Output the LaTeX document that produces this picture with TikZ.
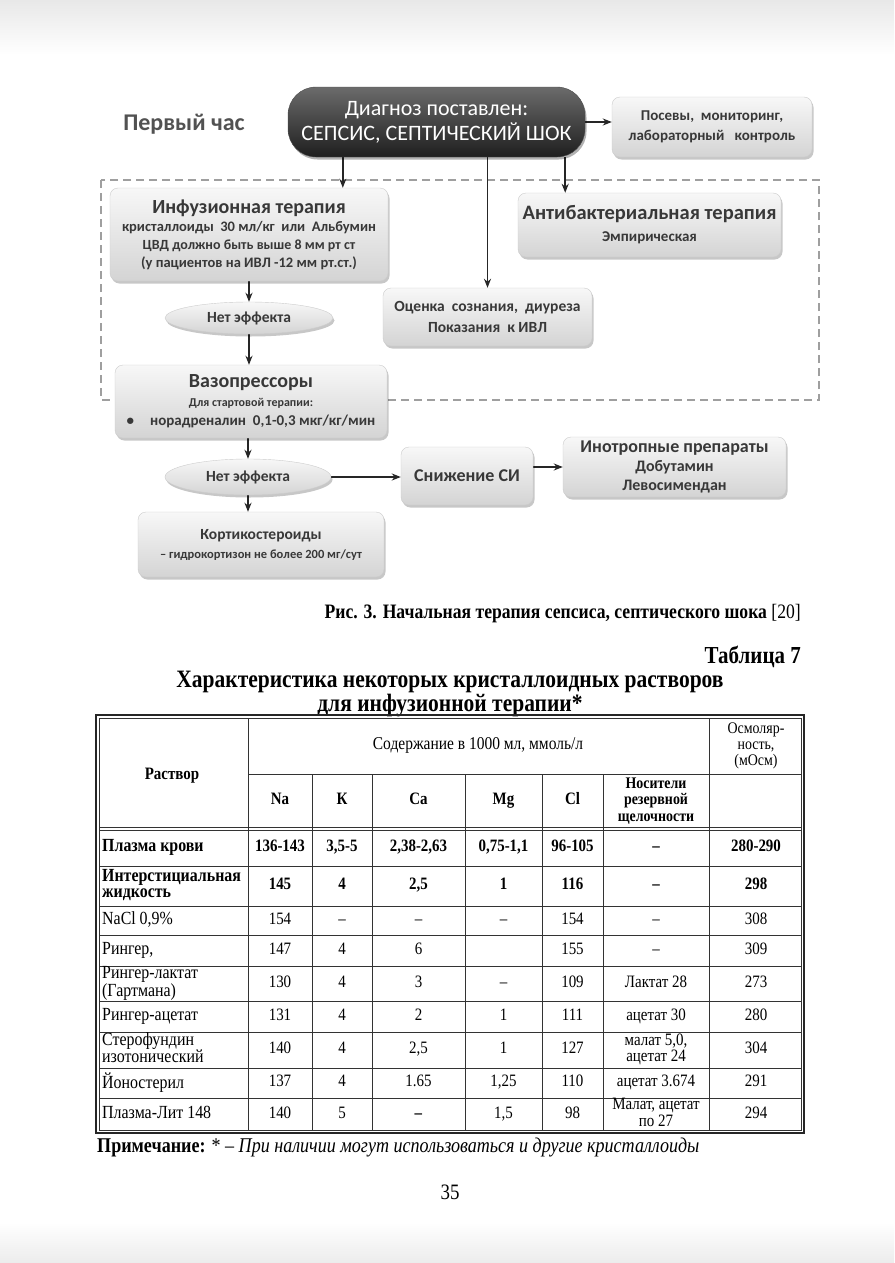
\documentclass[tikz,border=0pt]{standalone}
\usepackage{fontspec}
\setmainfont{Liberation Serif}[FakeStretch=0.86]
\newfontfamily\flow{Carlito}
\usetikzlibrary{shapes.geometric,shadows,arrows.meta,calc,backgrounds}
\newcommand\fs[2]{\fontsize{#1}{#2}\selectfont}
\newcommand\rowfont{\mdseries}
\newcommand\trow[9]{%
  \node[namecell] (n#1) at (102,#1) {#2};
  \node[cell] (a#1) at (280,#1) {#3};
  \node[cell] (b#1) at (342,#1) {#4};
  \node[cell] (c#1) at (418.5,#1) {#5};
  \node[cell] (d#1) at (503.5,#1) {#6};
  \node[cell] (e#1) at (572.5,#1) {#7};
  \node[cell] (f#1) at (656,#1) {#8};
  \node[cell] (g#1) at (756,#1) {#9};
}
\begin{document}
\begin{tikzpicture}[x=1pt,y=-1pt,
  box/.style={rectangle, rounded corners=8pt, top color=gray!6, bottom color=gray!34,
     draw=gray!40, line width=0.4pt, align=center, inner sep=0pt, text=black!78,
     drop shadow={shadow xshift=1.5pt, shadow yshift=-2.5pt, fill=black, opacity=0.22}},
  lens/.style={ellipse, top color=gray!6, bottom color=gray!34, draw=gray!40,
     line width=0.4pt, inner sep=0pt, font=\flow\bfseries\fs{15.5}{18}, text=black!78,
     drop shadow={shadow xshift=1.5pt, shadow yshift=-2.5pt, fill=black, opacity=0.22}},
  darkbox/.style={rectangle, rounded corners=28pt, top color=black!58, bottom color=black!88,
     draw=black!70, align=center, inner sep=0pt, text=white,
     drop shadow={shadow xshift=1.5pt, shadow yshift=-2.5pt, fill=black, opacity=0.3}},
  arr/.style={-{Stealth[length=9pt,width=7pt]}, line width=1.5pt, black!85},
  frame/.style={draw=gray!75, line width=1.4pt, dash pattern=on 8pt off 5pt},
  cell/.style={inner sep=0pt, align=center, font=\rowfont\fs{17.4}{16.5}, execute at begin node=\strut},
  namecell/.style={inner sep=0pt, anchor=west, align=left, font=\rowfont\fs{18.5}{16.5}, execute at begin node=\strut},
  hcell/.style={inner sep=0pt, align=center},
  scell/.style={inner sep=0pt, align=center, font=\bfseries\fs{17.4}{17}, execute at begin node=\strut},
  thin/.style={line width=0.6pt, black!80}
]
\begin{scope}[on background layer]
  \fill[white] (0,0) rectangle (894,1263);
  \shade[top color=gray!18, bottom color=white] (0,0) rectangle (894,55);
  \shade[top color=white, bottom color=gray!15] (0,1222) rectangle (894,1263);
\end{scope}
\useasboundingbox (0,0) rectangle (894,1263);

% ---------- flowchart ----------
\node[font=\flow\bfseries\fs{24}{28}, text=black!68] (hour) at (184,124) {Первый час};
\node[darkbox, minimum width=297, minimum height=70, font=\flow\fs{22}{25}] (main) at (436.5,122)
  {Диагноз поставлен:\\ СЕПСИС, СЕПТИЧЕСКИЙ ШОК};
\node[box, minimum width=200, minimum height=60, font=\flow\bfseries\fs{15}{20}] (posev) at (712,127)
  {Посевы,\ \ мониторинг,\\ лабораторный\ \ \ контроль};
\node[box, minimum width=278, minimum height=93, font=\flow\bfseries\fs{14.5}{19}] (inf) at (249,234.5)
  {{\fs{20}{19}Инфузионная терапия}\\[-1pt]
   кристаллоиды\ \ 30 мл/кг\ \ или\ \ Альбумин\\[-1pt]
   {\fs{14}{19}ЦВД должно быть выше 8 мм рт ст}\\[-1pt]
   (у пациентов на ИВЛ -12 мм рт.ст.)};
\node[box, minimum width=263, minimum height=64, font=\flow\bfseries\fs{15}{22}] (abx) at (649.5,225)
  {{\fs{20.5}{22}Антибактериальная терапия}\\ Эмпирическая};
\node[box, minimum width=209, minimum height=58, font=\flow\bfseries\fs{15.5}{21}] (ocen) at (487.5,317)
  {Оценка\ \ сознания,\ \ диуреза\\ Показания\ \ к ИВЛ};
\node[lens, minimum width=168, minimum height=32] (ell1) at (249,318) {Нет эффекта};
\node[box, minimum width=272, minimum height=73, font=\flow\bfseries\fs{12}{20}] (vaso) at (251,401.5)
  {{\fs{20}{20}Вазопрессоры}\\[-1pt]
   Для стартовой терапии:\\[-1pt]
   {\fs{15}{20}\textbullet\hspace{16pt}норадреналин\ \ 0,1-0,3 мкг/кг/мин}};
\node[lens, minimum width=166, minimum height=36] (ell2) at (248,477) {Нет эффекта};
\node[box, minimum width=132, minimum height=58, font=\flow\bfseries\fs{18}{20}] (sniz) at (467,476)
  {Снижение СИ};
\node[box, minimum width=223, minimum height=60, font=\flow\bfseries\fs{16}{19}] (ino) at (674.5,467)
  {{\fs{18}{19}Инотропные препараты}\\ Добутамин\\ Левосимендан};
\node[box, minimum width=246, minimum height=65, font=\flow\bfseries\fs{12.5}{18}] (cort) at (261,544.5)
  {{\fs{15.5}{18}Кортикостероиды}\\[1pt] – гидрокортизон не более 200 мг/сут};

\path (main.south west) ++(55,0) coordinate (m1);
\path (main.south east) ++(-20,0) coordinate (m3);
\begin{scope}[on background layer]
  \draw[frame] (101,180) rectangle (819,400);
  \draw[arr] (main.east) -- (posev.west |- main.east);
  \draw[arr] (m1) -- (m1 |- inf.north);
  \draw[arr] (ocen.north |- main.south) -- (ocen.north);
  \draw[arr] (m3) -- (m3 |- abx.north);
  \draw[arr] (ell1.north |- inf.south) -- (ell1.north);
  \draw[arr] (ell1.south) -- (ell1.south |- vaso.north);
  \draw[arr] (ell2.north |- vaso.south) -- (ell2.north);
  \draw[arr] (ell2.east) -- (sniz.west |- ell2.east);
  \draw[arr] (sniz.east |- ino.west) -- (ino.west);
  \draw[arr] (ell2.south) -- (ell2.south |- cort.north);
\end{scope}

% ---------- captions ----------
\node[anchor=east, inner sep=0pt, font=\fs{20.5}{22}] (cap) at (801,614)
  {\bfseries Рис. 3. Начальная терапия сепсиса, септического шока \mdseries[20]};
\node[anchor=east, inner sep=0pt, font=\bfseries\fs{24.4}{26}] (tno) at (801,657) {Таблица 7};
\node[inner sep=0pt, font=\bfseries\fs{25}{23.5}, align=center] (ttl) at (450,694)
  {Характеристика некоторых кристаллоидных растворов\\ для инфузионной терапии*};

% ---------- table ----------
\draw[line width=1.6pt, black!85] (96,715) rectangle (804,1133);
\draw[thin] (99,718) rectangle (801,1130);
\draw[thin] (248,718) -- (248,1130);
\draw[thin] (709,718) -- (709,1130);
\draw[thin] (248,774) -- (801,774);
\foreach \xx in {312,372,465,542,603} \draw[thin] (\xx,774) -- (\xx,1130);
\draw[thin] (99,827) -- (801,827);
\draw[thin] (99,830) -- (801,830);
\foreach \yy in {866,906,935,966,1001,1032,1068,1098} \draw[thin] (99,\yy) -- (801,\yy);

\node[scell] (hsol) at (172,776) {Раствор};
\node[hcell, font=\fs{18}{17}, execute at begin node=\strut] (hcont) at (478,746) {Содержание в 1000 мл, ммоль/л};
\node[hcell, font=\fs{16.2}{16}] (hosm) at (756,746) {Осмоляр-\\ность,\\(мОсм)};
\node[scell] (hna) at (280,801) {Na};
\node[scell] (hk) at (342,801) {К};
\node[scell] (hca) at (418.5,801) {Ca};
\node[scell] (hmg) at (503.5,801) {Mg};
\node[scell] (hcl) at (572.5,801) {Cl};
\node[hcell, font=\bfseries\fs{16.2}{16.5}] (hnos) at (656,801) {Носители\\резервной\\щелочности};

\renewcommand\rowfont{\bfseries}
\trow{848}{Плазма крови}{136-143}{3,5-5}{2,38-2,63}{0,75-1,1}{96-105}{–}{280-290}
\trow{886}{Интерстициальная\\\strut жидкость}{145}{4}{2,5}{1}{116}{–}{298}
\renewcommand\rowfont{\mdseries}
\trow{921}{NaCl 0,9\%}{154}{–}{–}{–}{154}{–}{308}
\trow{951}{Рингер,}{147}{4}{6}{}{155}{–}{309}
\trow{984}{Рингер-лактат\\\strut(Гартмана)}{130}{4}{3}{–}{109}{Лактат 28}{273}
\trow{1017}{Рингер-ацетат}{131}{4}{2}{1}{111}{ацетат 30}{280}
\trow{1050}{Стерофундин\\\strut изотонический}{140}{4}{2,5}{1}{127}{малат 5,0,\\\strut ацетат 24}{304}
\trow{1083}{Йоностерил}{137}{4}{1.65}{1,25}{110}{ацетат 3.674}{291}
\trow{1115}{Плазма-Лит 148}{140}{5}{\textbf{–}}{1,5}{98}{Малат, ацетат\\\strut по 27}{294}

\node[anchor=west, inner sep=0pt, font=\fs{21}{22}] (note) at (97,1147)
  {\textbf{Примечание:} * – \textit{При наличии могут использоваться и другие кристаллоиды}};
\node[inner sep=0pt, font=\fs{22}{24}] (pg) at (450,1192) {35};
\end{tikzpicture}
\end{document}
